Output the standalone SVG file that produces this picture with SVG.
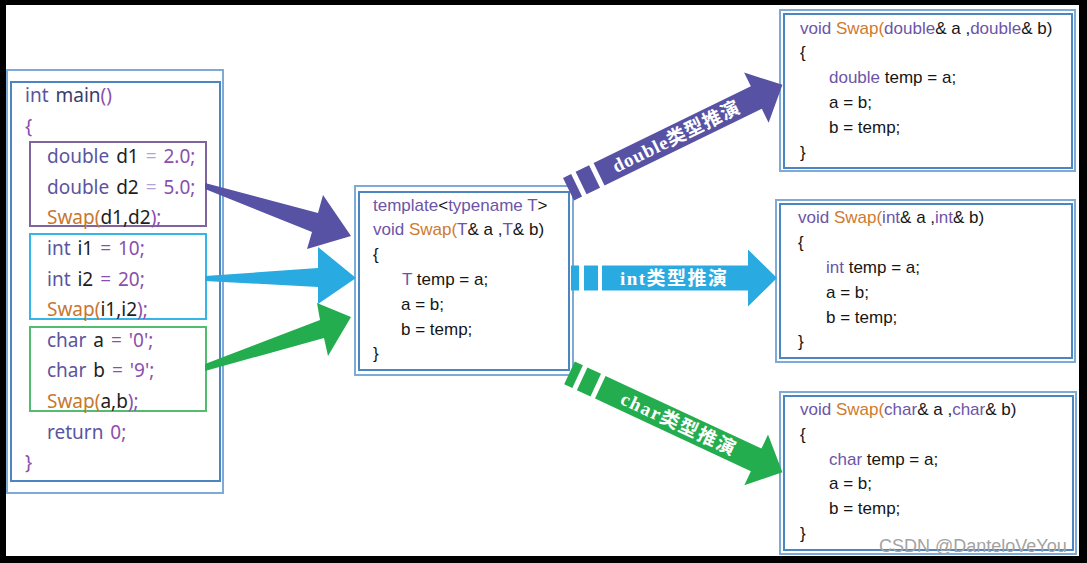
<svg xmlns="http://www.w3.org/2000/svg" width="1087" height="563" viewBox="0 0 1087 563">
<style>
.fo{fill:none;stroke:#7eaad6;stroke-width:2}
.fi{fill:none;stroke:#4b85c2;stroke-width:2}
.m{font-family:"Noto Sans","Open Sans",sans-serif;font-size:19px;word-spacing:2px;white-space:pre}
.c{font-family:"Liberation Sans",Arial,sans-serif;font-size:17px;white-space:pre;fill:#151515}
.k{fill:#5b54a0}
.p{fill:#8a4fae}
.b{fill:#1e1e1e}
.l{fill:#b4a4d0}
.o{fill:#c8772f}
.kv{fill:#6c55a8}
.ov{fill:#d07a2e}
.bt{font-family:"Liberation Serif","Noto Sans CJK SC",serif;font-size:19px;font-weight:bold;fill:#ffffff;white-space:pre}
.wm{font-family:"Liberation Sans",Arial,sans-serif;font-size:18px;fill:#a3a3a3}
</style>
<rect x="0" y="0" width="1087" height="563" fill="#000"/>
<rect x="6" y="5" width="1073" height="551" fill="#fff"/>

<g id="main">
<rect class="fo" x="7" y="70" width="216" height="423"/>
<rect class="fi" x="11" y="82" width="209" height="399"/>
<rect x="30" y="142" width="176" height="84" fill="none" stroke="#8064a2" stroke-width="2"/>
<rect x="30" y="234" width="176" height="85" fill="none" stroke="#35b6e6" stroke-width="2"/>
<rect x="30" y="327" width="176" height="84" fill="none" stroke="#52bd70" stroke-width="2"/>
<text class="m" x="25" y="102"><tspan class="k">int</tspan><tspan fill="#3b3b6b"> main</tspan><tspan class="p">()</tspan></text>
<text class="m p" x="25" y="132.6">{</text>
<text class="m" x="47" y="163.2"><tspan class="k">double</tspan><tspan class="b"> d1</tspan><tspan class="l"> = </tspan><tspan class="p">2.0;</tspan></text>
<text class="m" x="47" y="193.8"><tspan class="k">double</tspan><tspan class="b"> d2</tspan><tspan class="l"> = </tspan><tspan class="p">5.0;</tspan></text>
<text class="m" x="47" y="224.4"><tspan class="o">Swap(</tspan><tspan class="b">d1,d2</tspan><tspan class="p">);</tspan></text>
<text class="m" x="47" y="255"><tspan class="k">int</tspan><tspan class="b"> i1</tspan><tspan class="p"> = 10;</tspan></text>
<text class="m" x="47" y="285.6"><tspan class="k">int</tspan><tspan class="b"> i2</tspan><tspan class="p"> = 20;</tspan></text>
<text class="m" x="47" y="316.2"><tspan class="o">Swap(</tspan><tspan class="b">i1,i2</tspan><tspan class="p">);</tspan></text>
<text class="m" x="47" y="346.8"><tspan class="k">char</tspan><tspan class="b"> a</tspan><tspan class="p"> = '0';</tspan></text>
<text class="m" x="47" y="377.4"><tspan class="k">char</tspan><tspan class="b"> b</tspan><tspan class="p"> = '9';</tspan></text>
<text class="m" x="47" y="408"><tspan class="o">Swap(</tspan><tspan class="b">a,b</tspan><tspan class="p">);</tspan></text>
<text class="m" x="47" y="438.6"><tspan class="k">return</tspan><tspan class="p"> 0;</tspan></text>
<text class="m p" x="25" y="469.2">}</text>
</g>

<g id="template">
<rect class="fo" x="355" y="186" width="218" height="189"/>
<rect class="fi" x="359" y="192" width="210" height="178"/>
<text class="c" x="373" y="210.5"><tspan class="kv">template</tspan>&lt;<tspan class="kv">typename T</tspan>&gt;</text>
<text class="c" x="373" y="235.3"><tspan class="kv">void </tspan><tspan class="ov">Swap(</tspan><tspan class="kv">T</tspan>&amp; a ,<tspan class="kv">T</tspan>&amp; b)</text>
<text class="c" x="373" y="260.1">{</text>
<text class="c" x="402" y="284.9"><tspan class="kv">T</tspan> temp = a;</text>
<text class="c" x="401" y="309.7">a = b;</text>
<text class="c" x="401" y="334.5">b = temp;</text>
<text class="c" x="373" y="359.3">}</text>
</g>

<g id="swap-double">
<rect class="fo" x="780" y="10" width="295" height="161"/>
<rect class="fi" x="784" y="14" width="288" height="154"/>
<text class="c" x="800" y="33.5"><tspan class="kv">void </tspan><tspan class="ov">Swap(</tspan><tspan class="kv">double</tspan>&amp; a ,<tspan class="kv">double</tspan>&amp; b)</text>
<text class="c" x="800" y="58.3">{</text>
<text class="c" x="829" y="83.1"><tspan class="kv">double</tspan> temp = a;</text>
<text class="c" x="829" y="107.9">a = b;</text>
<text class="c" x="829" y="132.7">b = temp;</text>
<text class="c" x="800" y="157.5">}</text>
</g>

<g id="swap-int">
<rect class="fo" x="776" y="200" width="299" height="162"/>
<rect class="fi" x="780" y="204" width="292" height="154"/>
<text class="c" x="798" y="223.3"><tspan class="kv">void </tspan><tspan class="ov">Swap(</tspan><tspan class="kv">int</tspan>&amp; a ,<tspan class="kv">int</tspan>&amp; b)</text>
<text class="c" x="798" y="248.1">{</text>
<text class="c" x="826" y="272.9"><tspan class="kv">int</tspan> temp = a;</text>
<text class="c" x="826" y="297.7">a = b;</text>
<text class="c" x="826" y="322.5">b = temp;</text>
<text class="c" x="798" y="347.3">}</text>
</g>

<g id="swap-char">
<rect class="fo" x="780" y="392" width="296" height="162"/>
<rect class="fi" x="784" y="396" width="289" height="154"/>
<text class="c" x="800" y="415"><tspan class="kv">void </tspan><tspan class="ov">Swap(</tspan><tspan class="kv">char</tspan>&amp; a ,<tspan class="kv">char</tspan>&amp; b)</text>
<text class="c" x="800" y="439.8">{</text>
<text class="c" x="829" y="464.6"><tspan class="kv">char</tspan> temp = a;</text>
<text class="c" x="829" y="489.4">a = b;</text>
<text class="c" x="829" y="514.2">b = temp;</text>
<text class="c" x="800" y="539">}</text>
</g>

<g id="connectors">
<path d="M205,183 L318,213 L323,195 L351,236 L307,249 L312,232 L205,189 Z" fill="#5752a4"/>
<path d="M205,276 L318,268 L318,247 L356,278 L318,304 L318,287 L205,281 Z" fill="#29abe2"/>
<path d="M205,364 L320,320 L317,303 L351,317 L328,356 L324,338 L205,371 Z" fill="#23ad4f"/>

<g transform="translate(573,187) rotate(-26)" fill="#5752a4">
<rect x="-5" y="-12.5" width="9" height="25"/>
<rect x="9" y="-12.5" width="15" height="25"/>
<path d="M29,-12.5 L204,-12.5 L204,-28 L233,0 L204,28 L204,12.5 L29,12.5 Z"/>
<text class="bt" x="45" y="6.5" textLength="139" lengthAdjust="spacing">double类型推演</text>
</g>
<g transform="translate(575,278)" fill="#29abe2">
<rect x="-4" y="-12.5" width="8" height="25"/>
<rect x="9" y="-12.5" width="14" height="25"/>
<path d="M27,-12.5 L173,-12.5 L173,-28.5 L202,0 L173,28.5 L173,12.5 L27,12.5 Z"/>
<text class="bt" x="45" y="6.5" textLength="107" lengthAdjust="spacing">int类型推演</text>
</g>
<g transform="translate(574,375) rotate(25)" fill="#23ad4f">
<rect x="-5" y="-12.5" width="9" height="25"/>
<rect x="9" y="-12.5" width="15" height="25"/>
<path d="M29,-12.5 L201,-12.5 L201,-28 L230,0 L201,28 L201,12.5 L29,12.5 Z"/>
<text class="bt" x="53" y="6.5" textLength="124" lengthAdjust="spacing">char类型推演</text>
</g>
</g>

<text class="wm" x="879" y="552">CSDN @DanteloVeYou</text>
</svg>
